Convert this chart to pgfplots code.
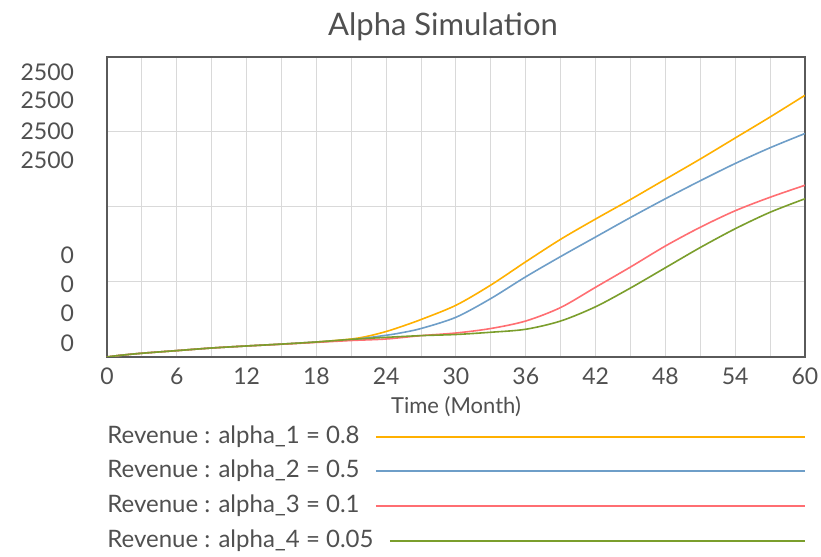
\documentclass[border=0pt]{standalone}
\usepackage{fontspec}
\setmainfont{Lato}
\usepackage{pgfplots}
\pgfplotsset{compat=1.18}
\definecolor{txt}{HTML}{505050}
\definecolor{cO}{HTML}{FFB000}
\definecolor{cB}{HTML}{6E9EC8}
\definecolor{cR}{HTML}{FF6E72}
\definecolor{cG}{HTML}{7B9E2C}
\definecolor{gridc}{HTML}{D9D9D9}
\definecolor{frame}{HTML}{5A5A5A}
\begin{document}
\begin{tikzpicture}
\useasboundingbox (-53.5pt,-100pt) rectangle (357pt,178.5pt);
\begin{axis}[
  at={(0,0)}, anchor=south west,
  scale only axis, width=349pt, height=150pt,
  xmin=0, xmax=60, ymin=0, ymax=4,
  xtick={0,6,...,60}, minor xtick={3,9,...,57},
  ytick={0.18,0.58,0.97,1.36,2.62,3.01,3.42,3.80},
  yticklabels={0,0,0,0,2500,2500,2500,2500},
  minor ytick={1,2,3},
  xmajorgrids=true, xminorgrids=true, ymajorgrids=false, yminorgrids=true,
  grid style={gridc, line width=0.5pt},
  minor grid style={gridc, line width=0.5pt},
  major tick length=0pt, minor tick length=0pt,
  axis line style={frame, line width=1pt},
  /pgf/number format/assume math mode=true,
  tick label style={font=\fontsize{11.5}{13}\selectfont, text=txt},
  yticklabel style={xshift=-13pt},
  xticklabel style={yshift=-2pt},
  xlabel={Time (Month)},
  xlabel style={font=\fontsize{11}{12}\selectfont, text=txt, yshift=1pt},
  every axis plot/.append style={line width=0.8pt, smooth},
]
\addplot[cO] coordinates {(0,0) (1,0.02) (3,0.05) (6,0.085) (9,0.12) (12,0.147) (15,0.172) (18,0.20) (21,0.24) (22.5,0.28) (24,0.34) (25.2,0.40) (27,0.50) (30,0.69) (33,0.96) (36,1.27) (39,1.57) (42,1.84) (45,2.10) (48,2.37) (51,2.64) (54,2.92) (57,3.20) (60,3.49)};
\addplot[cB] coordinates {(0,0) (1,0.02) (3,0.05) (6,0.085) (9,0.12) (12,0.147) (15,0.172) (18,0.20) (21,0.23) (24,0.29) (25.2,0.32) (27,0.38) (30,0.53) (33,0.78) (36,1.07) (39,1.34) (42,1.60) (45,1.86) (48,2.11) (51,2.35) (54,2.58) (57,2.79) (60,2.98)};
\addplot[cR] coordinates {(0,0) (1,0.02) (3,0.05) (6,0.085) (9,0.12) (12,0.147) (15,0.17) (18,0.195) (21,0.22) (24,0.24) (27,0.285) (30,0.32) (33,0.38) (36,0.48) (39,0.66) (42,0.93) (45,1.20) (48,1.48) (51,1.73) (54,1.95) (57,2.13) (60,2.29)};
\addplot[cG] coordinates {(0,0) (1,0.02) (3,0.05) (6,0.085) (9,0.12) (12,0.147) (15,0.172) (18,0.20) (21,0.235) (24,0.262) (27,0.285) (30,0.30) (33,0.33) (36,0.37) (39,0.48) (42,0.67) (45,0.92) (48,1.19) (51,1.46) (54,1.71) (57,1.93) (60,2.11)};
\end{axis}
\node[text=txt, font=\fontsize{15.5}{18}\selectfont] at (168pt,165pt) {Alpha Simulation};
\begin{scope}[every node/.style={anchor=west, inner sep=0pt, text=txt, font=\fontsize{12}{14}\selectfont}]
\node (l1) at (0,-40pt) {Revenue : alpha\_1 = 0.8};
\node (l2) at (0,-57pt) {Revenue : alpha\_2 = 0.5};
\node (l3) at (0,-74.5pt) {Revenue : alpha\_3 = 0.1};
\node (l4) at (0,-92pt) {Revenue : alpha\_4 = 0.05};
\end{scope}
\draw[cO, line width=0.8pt] ([xshift=8pt]l1.east) -- (349pt,-40pt);
\draw[cB, line width=0.8pt] ([xshift=8pt]l2.east) -- (349pt,-57pt);
\draw[cR, line width=0.8pt] ([xshift=8pt]l3.east) -- (349pt,-74.5pt);
\draw[cG, line width=0.8pt] ([xshift=8pt]l4.east) -- (349pt,-92pt);
\end{tikzpicture}
\end{document}
